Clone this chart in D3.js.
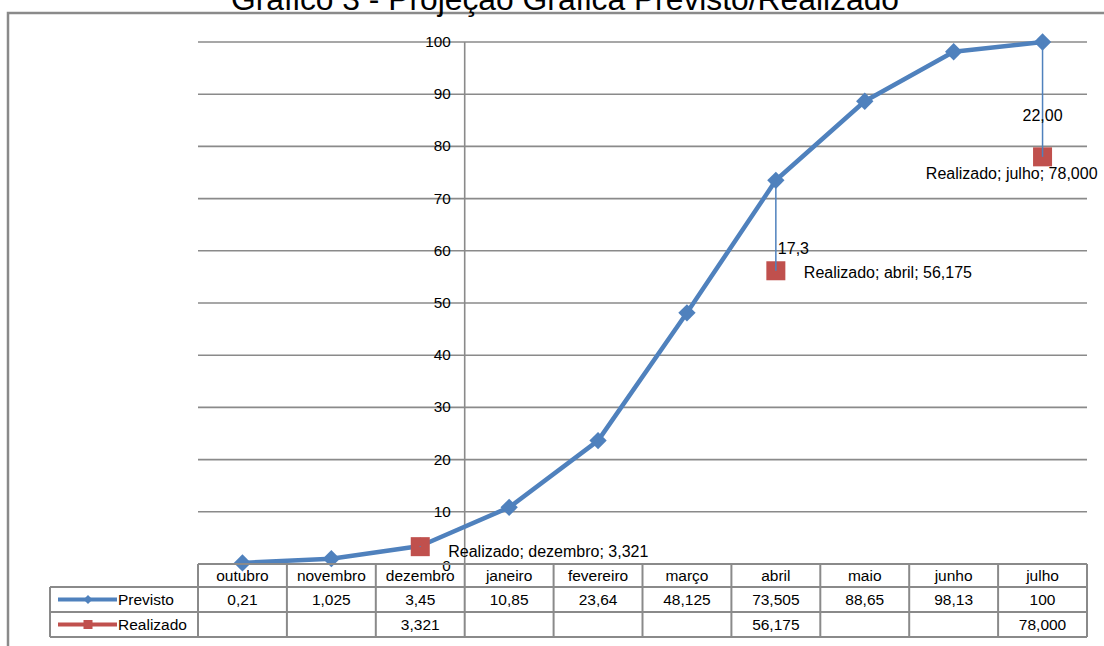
<!DOCTYPE html>
<html>
<head>
<meta charset="utf-8">
<script src="https://cdn.jsdelivr.net/npm/d3@7"></script>
<style>
  html, body { margin: 0; padding: 0; background: #fff; }
  svg { display: block; font-family: "Liberation Sans", Arial, sans-serif; }
</style>
</head>
<body>
<svg id="chart" width="1104" height="646"></svg>
<script>
// Months of the schedule
const months = ["outubro", "novembro", "dezembro", "janeiro", "fevereiro", "março",
                "abril", "maio", "junho", "julho"];
// Planned cumulative progress (%)
const previsto = [0.21, 1.025, 3.45, 10.85, 23.64, 48.125, 73.505, 88.65, 98.13, 100];
// Actual cumulative progress (%), only measured in some months
const realizado = [null, null, 3.321, null, null, null, 56.175, null, null, 78.000];
// Y axis ticks
const yTicks = [0, 10, 20, 30, 40, 50, 60, 70, 80, 90, 100];
// Decimals used for the gap labels between planned and actual
const gapDecimals = { "abril": 1, "julho": 2 };

const title = "Gráfico 3 - Projeção Gráfica Previsto/Realizado";
const blue = "#4F81BD", red = "#C0504D", grid = "#8a8a8a";

const svg = d3.select("#chart");
const W = 1104, H = 646;

const x = d3.scaleBand().domain(months).range([198, 1087]).padding(0);
const y = d3.scaleLinear().domain([0, 100]).range([564, 42]);
const cx = m => x(m) + x.bandwidth() / 2;

const fmtPt = v => String(v).replace(".", ",");
const fmtFix = (v, d) => v.toFixed(d).replace(".", ",");

const tableFont = 15.5, tickFont = 15.3, labelFont = 16;

// Outer chart frame (top and left edges visible)
svg.append("path")
  .attr("d", `M8,${H} L8,13 L${W},13`)
  .attr("fill", "none").attr("stroke", grid).attr("stroke-width", 2.5);

// Title
svg.append("text")
  .attr("x", 565).attr("y", 10)
  .attr("text-anchor", "middle")
  .attr("font-size", 31.8)
  .attr("fill", "#000")
  .text(title);

// Horizontal gridlines
svg.append("g").selectAll("line")
  .data(yTicks.filter(t => t > 0))
  .join("line")
  .attr("x1", x.range()[0]).attr("x2", x.range()[1])
  .attr("y1", d => y(d)).attr("y2", d => y(d))
  .attr("stroke", grid).attr("stroke-width", 1.6);

// Vertical axis, crossing between dezembro and janeiro
const axisX = x("janeiro");
svg.append("line")
  .attr("x1", axisX).attr("x2", axisX)
  .attr("y1", y(100)).attr("y2", y(0))
  .attr("stroke", grid).attr("stroke-width", 1.6);

// Y tick labels
svg.append("g").selectAll("text")
  .data(yTicks)
  .join("text")
  .attr("x", axisX - 14)
  .attr("y", d => y(d) + (d === 0 ? 7 : 5))
  .attr("text-anchor", "end")
  .attr("font-size", tickFont)
  .text(d => d);

// Planned line
const line = d3.line().x((d, i) => cx(months[i])).y(d => y(d));
svg.append("path")
  .datum(previsto)
  .attr("d", line)
  .attr("fill", "none")
  .attr("stroke", blue).attr("stroke-width", 4.5)
  .attr("stroke-linejoin", "round");

// Planned markers (diamonds)
const diamond = d3.symbol().type(d3.symbolSquare).size(150);
svg.append("g").selectAll("path")
  .data(previsto)
  .join("path")
  .attr("d", diamond)
  .attr("transform", (d, i) => `translate(${cx(months[i])},${y(d)}) rotate(45)`)
  .attr("fill", blue);

// Actual points
const actual = months.map((m, i) => ({ m, v: realizado[i], p: previsto[i] }))
  .filter(d => d.v !== null);

svg.append("g").selectAll("rect")
  .data(actual)
  .join("rect")
  .attr("x", d => cx(d.m) - 9.5).attr("y", d => y(d.v) - 9.5)
  .attr("width", 19).attr("height", 19)
  .attr("fill", red);

// Gap lines between planned and actual
svg.append("g").selectAll("line")
  .data(actual)
  .join("line")
  .attr("x1", d => cx(d.m)).attr("x2", d => cx(d.m))
  .attr("y1", d => y(d.p)).attr("y2", d => y(d.v))
  .attr("stroke", blue).attr("stroke-width", 1.5);

// Gap labels
const gapPos = { "abril": { dx: 2, t: 0.82 }, "julho": { dx: -20, t: 0.684 } };
svg.append("g").selectAll("text")
  .data(actual.filter(d => gapDecimals[d.m] !== undefined))
  .join("text")
  .attr("x", d => cx(d.m) + gapPos[d.m].dx)
  .attr("y", d => y(d.p) + (y(d.v) - y(d.p)) * gapPos[d.m].t)
  .attr("font-size", labelFont)
  .text(d => fmtFix(d.p - d.v, gapDecimals[d.m]));

// Actual data labels
const lblPos = {
  "dezembro": { dx: 28, dy: 10, anchor: "start" },
  "abril": { dx: 28, dy: 7, anchor: "start" },
  "julho": { dx: 55, dy: 22, anchor: "end" }
};
svg.append("g").selectAll("text")
  .data(actual)
  .join("text")
  .attr("x", d => cx(d.m) + lblPos[d.m].dx)
  .attr("y", d => y(d.v) + lblPos[d.m].dy)
  .attr("text-anchor", d => lblPos[d.m].anchor)
  .attr("font-size", labelFont)
  .text(d => `Realizado; ${d.m}; ${fmtFix(d.v, 3)}`);

// Data table
const rowY = [564, 587, 612, 637];
const tableLeft = 50, tableRight = x.range()[1];
const tg = svg.append("g").attr("stroke", grid).attr("stroke-width", 2).attr("fill", "none");
tg.append("line").attr("x1", x.range()[0]).attr("x2", tableRight).attr("y1", rowY[0]).attr("y2", rowY[0]);
tg.selectAll("line.row")
  .data(rowY.slice(1))
  .join("line").attr("class", "row")
  .attr("x1", tableLeft).attr("x2", tableRight)
  .attr("y1", d => d).attr("y2", d => d);
tg.append("line").attr("x1", tableLeft).attr("x2", tableLeft).attr("y1", rowY[1]).attr("y2", rowY[3]);
tg.selectAll("line.col")
  .data(months.map(m => x(m)).concat([tableRight]))
  .join("line").attr("class", "col")
  .attr("x1", d => d).attr("x2", d => d)
  .attr("y1", rowY[0]).attr("y2", rowY[3]);

const rowMid = i => (rowY[i] + rowY[i + 1]) / 2 + 5.5;

// Header (months)
svg.append("g").selectAll("text")
  .data(months)
  .join("text")
  .attr("x", d => cx(d)).attr("y", rowMid(0))
  .attr("text-anchor", "middle").attr("font-size", tableFont)
  .text(d => d);

// Planned row
svg.append("g").selectAll("text")
  .data(previsto)
  .join("text")
  .attr("x", (d, i) => cx(months[i])).attr("y", rowMid(1))
  .attr("text-anchor", "middle").attr("font-size", tableFont)
  .text(d => fmtPt(d));

// Actual row
svg.append("g").selectAll("text")
  .data(actual)
  .join("text")
  .attr("x", d => cx(d.m)).attr("y", rowMid(2))
  .attr("text-anchor", "middle").attr("font-size", tableFont)
  .text(d => fmtFix(d.v, 3));

// Legend keys inside the table
const keyY1 = (rowY[1] + rowY[2]) / 2, keyY2 = (rowY[2] + rowY[3]) / 2;
svg.append("line").attr("x1", 58).attr("x2", 117).attr("y1", keyY1).attr("y2", keyY1)
  .attr("stroke", blue).attr("stroke-width", 4);
svg.append("path").attr("d", d3.symbol().type(d3.symbolSquare).size(40))
  .attr("transform", `translate(88,${keyY1}) rotate(45)`).attr("fill", blue);
svg.append("text").attr("x", 118).attr("y", keyY1 + 5.5).attr("font-size", tableFont).text("Previsto");

svg.append("line").attr("x1", 58).attr("x2", 117).attr("y1", keyY2).attr("y2", keyY2)
  .attr("stroke", red).attr("stroke-width", 4);
svg.append("rect").attr("x", 83.5).attr("y", keyY2 - 4.5).attr("width", 9).attr("height", 9).attr("fill", red);
svg.append("text").attr("x", 118).attr("y", keyY2 + 5.5).attr("font-size", tableFont).text("Realizado");
</script>
</body>
</html>
